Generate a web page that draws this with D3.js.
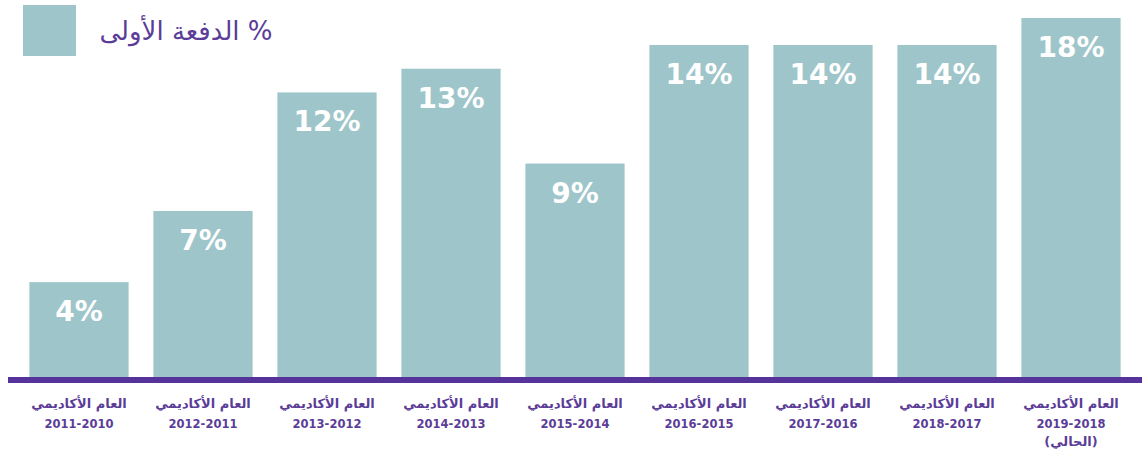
<!DOCTYPE html>
<html>
<head>
<meta charset="utf-8">
<script src="https://cdn.jsdelivr.net/npm/d3@7"></script>
<style>
  body { margin: 0; background: #fff; }
  svg { display: block; }
</style>
</head>
<body>
<div id="chart"></div>
<script>
// Data
var years = ["2011-2010", "2012-2011", "2013-2012", "2014-2013", "2015-2014",
             "2016-2015", "2017-2016", "2018-2017", "2019-2018"];
var values = [4, 7, 12, 13, 9, 14, 14, 14, 18];
var yearWord = "العام الأكاديمي";
var currentNote = "(الحالي)";
var legendLabel = "% الدفعة الأولى";

var svgWidth = 1142;
var svgHeight = 456;
var baseY = 377;

var barColor = "#9ec5c9";
var purple = "#55339a";
var textPurple = "#5b3d98";
var font = "'DejaVu Sans', sans-serif";

var svg = d3.select("#chart")
  .append("svg")
  .attr("width", svgWidth)
  .attr("height", svgHeight);

// Scales
var xScale = d3.scaleBand()
  .domain(years)
  .range([17, 1133])
  .paddingInner(0.2)
  .paddingOuter(0.1);

// bars in the original are not drawn to one strict scale, the top one is squeezed
var yScale = d3.scaleLinear()
  .domain([0, 14, 18])
  .range([baseY, 45, 18]);

// Bars
svg.selectAll("rect.bar")
  .data(values)
  .enter()
  .append("rect")
  .attr("class", "bar")
  .attr("x", (d, i) => xScale(years[i]))
  .attr("y", d => yScale(d))
  .attr("width", xScale.bandwidth())
  .attr("height", d => baseY - yScale(d))
  .attr("fill", barColor);

// Value labels
svg.selectAll("text.value")
  .data(values)
  .enter()
  .append("text")
  .attr("class", "value")
  .attr("x", (d, i) => xScale(years[i]) + xScale.bandwidth() / 2)
  .attr("y", d => yScale(d) + 39)
  .attr("text-anchor", "middle")
  .style("font-family", font)
  .style("font-weight", "bold")
  .style("font-size", "28px")
  .attr("fill", "#fff")
  .text(d => d + "%");

// Axis line
var xAxis = d3.axisBottom(xScale).tickSize(0).tickFormat("");
var axisG = svg.append("g")
  .attr("transform", `translate(0, ${baseY + 3})`)
  .call(xAxis);
axisG.select(".domain").remove();
axisG.append("line")
  .attr("x1", 8)
  .attr("x2", svgWidth)
  .attr("stroke", purple)
  .attr("stroke-width", 6);

// Category labels
var labelG = axisG.selectAll(".tick");
labelG.append("text")
  .attr("y", 28)
  .attr("text-anchor", "middle")
  .attr("direction", "rtl")
  .style("font-family", font)
  .style("font-weight", "bold")
  .style("font-size", "13px")
  .attr("fill", textPurple)
  .text(yearWord);

labelG.append("text")
  .attr("y", 48)
  .attr("text-anchor", "middle")
  .style("font-family", font)
  .style("font-weight", "bold")
  .style("font-size", "11.5px")
  .attr("fill", textPurple)
  .text(d => d);

labelG.filter((d, i) => i === years.length - 1)
  .append("text")
  .attr("y", 66)
  .attr("text-anchor", "middle")
  .attr("direction", "rtl")
  .style("font-family", font)
  .style("font-weight", "bold")
  .style("font-size", "13px")
  .attr("fill", textPurple)
  .text(currentNote);

// Legend
svg.append("rect")
  .attr("x", 23)
  .attr("y", 5)
  .attr("width", 53)
  .attr("height", 51)
  .attr("fill", barColor);

svg.append("text")
  .attr("x", 186)
  .attr("y", 40)
  .attr("text-anchor", "middle")
  .attr("direction", "rtl")
  .style("font-family", font)
  .style("font-size", "26px")
  .attr("fill", textPurple)
  .text(legendLabel);
</script>
</body>
</html>
